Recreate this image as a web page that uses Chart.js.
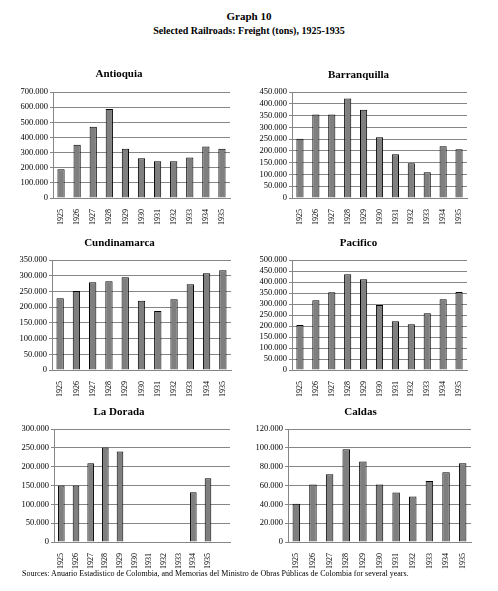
<!DOCTYPE html>
<html>
<head>
<meta charset="utf-8">
<script src="https://cdn.jsdelivr.net/npm/chart.js@4.4.1/dist/chart.umd.min.js"></script>
<style>
body { margin: 0; background: #fff; width: 498px; height: 591px; position: relative; overflow: hidden; font-family: "Liberation Serif", serif; color: #000; }
.head { position: absolute; left: 0; width: 498px; text-align: center; font-weight: bold; }
canvas { position: absolute; }
.note { position: absolute; left: 22px; top: 569px; font-size: 8px; white-space: nowrap; }
</style>
</head>
<body>
<div class="head" style="top:10px;font-size:11px;">Graph 10</div>
<div class="head" style="top:25px;font-size:10px;">Selected Railroads: Freight (tons), 1925-1935</div>

<canvas id="c1"></canvas>
<canvas id="c2"></canvas>
<canvas id="c3"></canvas>
<canvas id="c4"></canvas>
<canvas id="c5"></canvas>
<canvas id="c6"></canvas>

<div class="note">Sources: Anuario Estadistico de Colombia, and Memorias del Ministro de Obras Públicas de Colombia for several years.</div>

<script>
// Data (tons)
const years = ['1925', '1926', '1927', '1928', '1929', '1930', '1931', '1932', '1933', '1934', '1935'];
const doradaYears = ['1925', '1926', '1927', '1928', '1929', '1930', '1931', '1932', '1933', '1934', '1935', ''];

const antioquia = [190000, 352000, 470000, 588000, 326000, 262000, 243000, 243000, 268000, 340000, 326000];
const barranquilla = [252000, 355000, 355000, 422000, 375000, 258000, 186000, 147000, 109000, 220000, 207000];
const cundinamarca = [228000, 251000, 279000, 282000, 295000, 220000, 188000, 225000, 273000, 308000, 317000];
const pacifico = [204000, 317000, 353000, 435000, 412000, 295000, 222000, 208000, 258000, 322000, 355000];
const laDorada = [150000, 150000, 209000, 251000, 240000, null, null, null, null, 132000, 169000, null];
const caldas = [40500, 61000, 72000, 98400, 85600, 61000, 52600, 48300, 64700, 74200, 83500];

// y axis ranges: [max, step]
const antioquiaAxis = [700000, 100000];
const barranquillaAxis = [450000, 50000];
const cundinamarcaAxis = [350000, 50000];
const pacificoAxis = [500000, 50000];
const laDoradaAxis = [300000, 50000];
const caldasAxis = [120000, 20000];

const FONT = '"Liberation Serif", "Times New Roman", serif';
const GRID = '#868686';

function fmt(v) {
    if (v === 0) return '0';
    return String(v).replace(/\B(?=(\d{3})+(?!\d))/g, '.');
}

// box: canvas x / width, title y, plot area edges
function drawChart(id, name, labels, values, axis, box) {
    const canvas = document.getElementById(id);
    const top = box.titleY - 10;
    const height = box.bottom + 32 - top;
    canvas.width = box.w;
    canvas.height = height;
    canvas.style.left = box.x + 'px';
    canvas.style.top = top + 'px';
    canvas.style.width = box.w + 'px';
    canvas.style.height = height + 'px';

    new Chart(canvas.getContext('2d'), {
        type: 'bar',
        data: {
            labels: labels,
            datasets: [{
                data: values,
                backgroundColor: '#7f7f7f',
                borderColor: '#000',
                borderWidth: 1,
                barPercentage: 0.45,
                categoryPercentage: 1
            }]
        },
        options: {
            responsive: false,
            animation: false,
            devicePixelRatio: 1,
            layout: { padding: { left: 0, right: box.x + box.w - box.right, top: 0, bottom: 0 } },
            plugins: {
                legend: { display: false },
                tooltip: { enabled: false },
                title: {
                    display: true,
                    text: name,
                    color: '#000',
                    font: { family: FONT, size: 11, weight: 'bold', lineHeight: 1.2 },
                    padding: { top: box.titleY - top - 6.6, bottom: box.top - box.titleY - 6.6 }
                }
            },
            scales: {
                x: {
                    grid: { display: false },
                    border: { display: true, color: GRID },
                    ticks: {
                        autoSkip: false,
                        minRotation: 90,
                        maxRotation: 90,
                        padding: 3,
                        color: '#000',
                        font: { family: FONT, size: 8 }
                    },
                    afterFit: function(s) { s.height = 32; }
                },
                y: {
                    min: 0,
                    max: axis[0],
                    grid: { color: GRID, tickLength: 3 },
                    border: { display: true, color: GRID },
                    ticks: {
                        stepSize: axis[1],
                        autoSkip: false,
                        padding: 2,
                        color: '#000',
                        font: { family: FONT, size: 8.5 },
                        callback: function(v) { return fmt(v); }
                    },
                    afterFit: function(s) { s.width = box.left - box.x; }
                }
            }
        }
    });
}

drawChart('c1', 'Antioquia', years, antioquia, antioquiaAxis,
    { x: 8, w: 240, titleY: 74, left: 53, right: 230, top: 92, bottom: 198 });
drawChart('c2', 'Barranquilla', years, barranquilla, barranquillaAxis,
    { x: 250, w: 230, titleY: 75, left: 292, right: 467, top: 92, bottom: 198 });
drawChart('c3', 'Cundinamarca', years, cundinamarca, cundinamarcaAxis,
    { x: 8, w: 240, titleY: 243, left: 52, right: 231, top: 260, bottom: 370 });
drawChart('c4', 'Pacifico', years, pacifico, pacificoAxis,
    { x: 250, w: 228, titleY: 243, left: 292, right: 467, top: 260, bottom: 370 });
drawChart('c5', 'La Dorada', doradaYears, laDorada, laDoradaAxis,
    { x: 8, w: 240, titleY: 412, left: 54, right: 230, top: 429, bottom: 542 });
drawChart('c6', 'Caldas', years, caldas, caldasAxis,
    { x: 250, w: 228, titleY: 412, left: 288, right: 471, top: 429, bottom: 542 });
</script>
</body>
</html>
